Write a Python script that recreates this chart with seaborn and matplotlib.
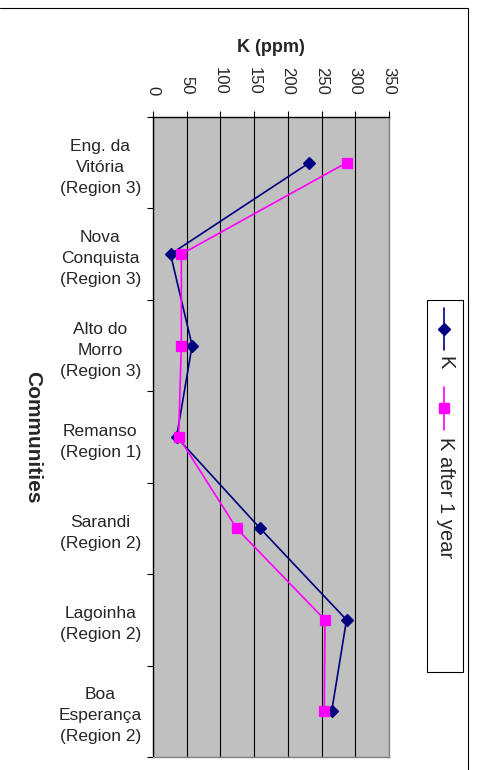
import matplotlib
matplotlib.use("Agg")
import matplotlib.pyplot as plt
from matplotlib.lines import Line2D
from matplotlib.patches import Rectangle
from matplotlib.ticker import FixedLocator
import seaborn as sns
import pandas as pd

communities = [
    "Eng. da\nVitória\n(Region 3)",
    "Nova\nConquista\n(Region 3)",
    "Alto do\nMorro\n(Region 3)",
    "Remanso\n(Region 1)",
    "Sarandi\n(Region 2)",
    "Lagoinha\n(Region 2)",
    "Boa\nEsperança\n(Region 2)",
]
k_values = [232, 26, 58, 35, 159, 287, 265]
k_after_values = [287, 42, 42, 38, 124, 255, 254]
series_names = ["K", "K after 1 year"]
series_colors = ["#000080", "#FF00FF"]
xticks = [0, 50, 100, 150, 200, 250, 300, 350]

df = pd.DataFrame({
    "community": communities * 2,
    "value": k_values + k_after_values,
    "series": [series_names[0]] * len(communities) + [series_names[1]] * len(communities),
})

sns.set_style("white")
plt.rcParams["font.family"] = ["Liberation Sans", "DejaVu Sans"]

W, H = 478, 770
fig = plt.figure(figsize=(W / 100, H / 100), dpi=100)

def fx(x):
    return x / W

def fy(y):
    return 1 - y / H

ax = fig.add_axes([fx(153), fy(757), fx(389) - fx(153), fy(117) - fy(757)])
ax.set_facecolor("#C0C0C0")

sns.pointplot(
    data=df, x="value", y="community", hue="series",
    order=communities, hue_order=series_names,
    palette=series_colors, markers=["D", "s"], linestyles=["-", "-"],
    errorbar=None, dodge=False, legend=False, ax=ax,
    markersize=6.5, linewidth=1.2, orient="h",
)

ax.set_xlim(0, 350)
ax.set_ylim(len(communities) - 0.5, -0.5)
ax.xaxis.set_major_locator(FixedLocator(xticks))
ax.grid(axis="x", color="black", linewidth=0.8)
ax.grid(axis="y", visible=False)
ax.set_axisbelow(True)

ax.xaxis.tick_top()
ax.xaxis.set_label_position("top")
ax.tick_params(axis="x", which="major", direction="out", length=4, width=0.8,
               color="black", labelsize=12, labelrotation=-90, pad=12,
               top=True, bottom=False)
ax.set_xlabel("K (ppm)", fontsize=13, fontweight="bold", labelpad=11)

ax.yaxis.set_minor_locator(FixedLocator([i - 0.5 for i in range(len(communities) + 1)]))
ax.tick_params(axis="y", which="major", length=0, labelsize=12.5, pad=38)
ax.tick_params(axis="y", which="minor", direction="out", length=4, width=0.8,
               color="black", left=True)
for lbl in ax.get_yticklabels():
    lbl.set_ha("center")
    lbl.set_linespacing(1.5)
ax.set_ylabel("Communities", fontsize=15, fontweight="bold", rotation=-90)
ax.yaxis.label.set_va("center")
ax.yaxis.set_label_coords((33 - 153) / 236, 0.5)

for side in ["left", "top"]:
    ax.spines[side].set_color("black")
    ax.spines[side].set_linewidth(1.0)
for side in ["right", "bottom"]:
    ax.spines[side].set_color("#808080")
    ax.spines[side].set_linewidth(1.0)
for s in ax.spines.values():
    s.set_visible(True)

# legend (rotated, drawn manually)
fig.add_artist(Rectangle((fx(427), fy(672)), fx(463) - fx(427), fy(300) - fy(672),
                         transform=fig.transFigure, facecolor="white",
                         edgecolor="black", linewidth=0.8))
lx = fx(444)
fig.add_artist(Line2D([lx, lx], [fy(308), fy(350)], transform=fig.transFigure,
                      color=series_colors[0], linewidth=1.2))
fig.add_artist(Line2D([lx], [fy(329)], transform=fig.transFigure, marker="D",
                      markersize=6.5, color=series_colors[0], linestyle="none"))
fig.text(fx(445), fy(356), series_names[0], rotation=-90, ha="center", va="top",
         fontsize=14.5)
fig.add_artist(Line2D([lx, lx], [fy(387), fy(430)], transform=fig.transFigure,
                      color=series_colors[1], linewidth=1.2))
fig.add_artist(Line2D([lx], [fy(408)], transform=fig.transFigure, marker="s",
                      markersize=6.5, color=series_colors[1], linestyle="none"))
fig.text(fx(445), fy(437), series_names[1], rotation=-90, ha="center", va="top",
         fontsize=14.5)

# chart area border (top and right visible)
fig.add_artist(Line2D([0, fx(468)], [fy(8), fy(8)], transform=fig.transFigure,
                      color="black", linewidth=0.8))
fig.add_artist(Line2D([fx(468), fx(468)], [fy(8), 0], transform=fig.transFigure,
                      color="black", linewidth=0.8))

fig.savefig("out.png", dpi=100)
